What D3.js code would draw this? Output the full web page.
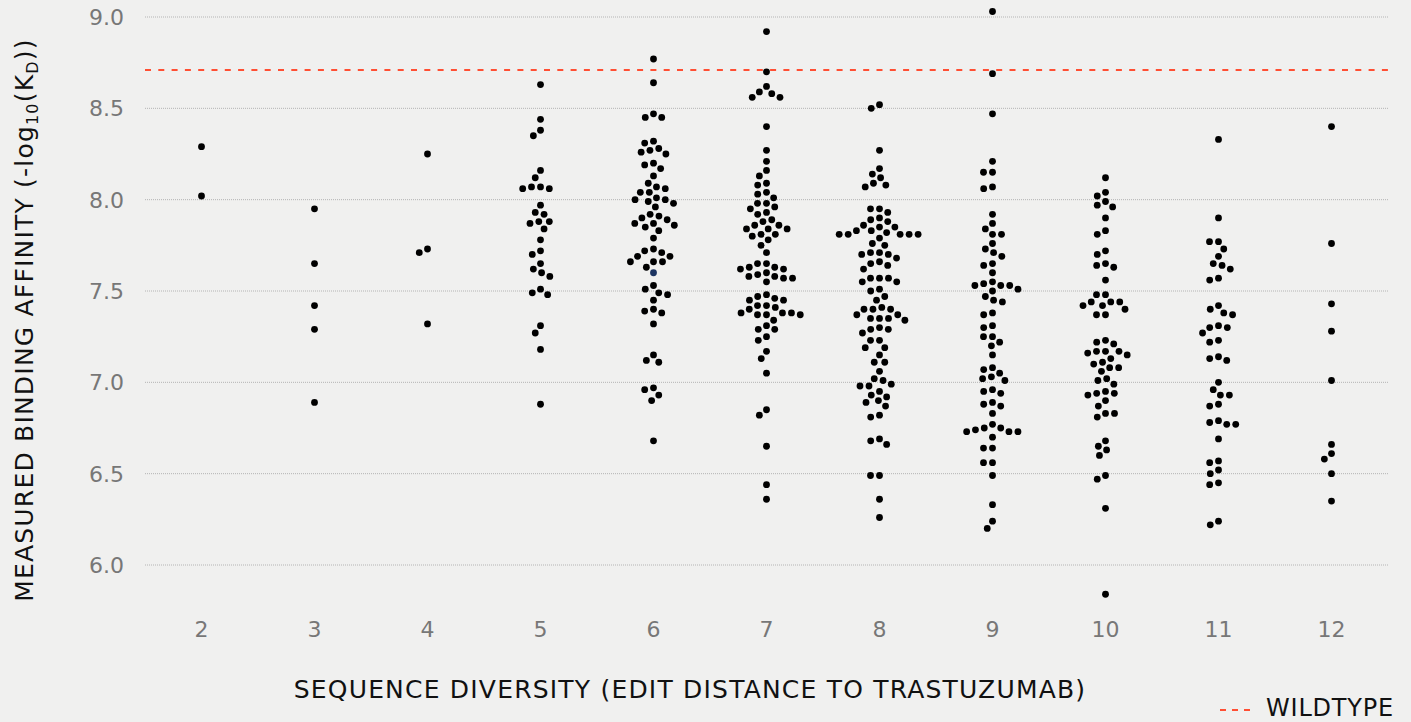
<!DOCTYPE html>
<html>
<head>
<meta charset="utf-8">
<script src="https://cdn.jsdelivr.net/npm/d3@7"></script>
<style>
  html, body { margin: 0; padding: 0; background: #f0f0ef; }
  svg { display: block; font-family: 'DejaVu Sans', sans-serif; }
</style>
</head>
<body>
<div id="chart"></div>
<script>
// edit distance to trastuzumab (x categories)
const categories = [2, 3, 4, 5, 6, 7, 8, 9, 10, 11, 12]
const yTicks = [6.0, 6.5, 7.0, 7.5, 8.0, 8.5, 9.0]
const wildtype = 8.71

// measured binding affinity, -log10(KD), one array per edit distance
const dist2 = [8.29, 8.02]
const dist3 = [7.95, 7.65, 7.42, 7.29, 6.89]
const dist4 = [8.25, 7.73, 7.71, 7.32]
const dist5 = [8.63, 8.44, 8.38, 8.35, 8.16, 8.12, 8.07, 8.06, 8.06, 8.07, 7.97, 7.93, 7.92, 7.87, 7.84, 7.88,
  7.88, 7.78, 7.72, 7.70, 7.65, 7.62, 7.60, 7.58, 7.49, 7.48, 7.51, 7.31, 7.27, 7.18, 6.88]
const dist6 = [8.77, 8.64, 8.45, 8.45, 8.47, 8.31, 8.32, 8.28, 8.26, 8.25, 8.27, 8.20, 8.19, 8.17, 8.13, 8.09,
  8.07, 8.06, 8.04, 8.04, 8.01, 8.00, 8.00, 7.99, 7.98, 7.96, 7.92, 7.91, 7.90, 7.89, 7.87, 7.87, 7.86, 7.85,
  7.83, 7.79, 7.73, 7.72, 7.71, 7.69, 7.69, 7.66, 7.66, 7.66, 7.63, 7.60, 7.53, 7.51, 7.49, 7.48, 7.45, 7.40,
  7.39, 7.38, 7.32, 7.15, 7.12, 7.11, 6.97, 6.96, 6.93, 6.90, 6.68]
const dist7 = [8.92, 8.70, 8.62, 8.59, 8.58, 8.56, 8.56, 8.40, 8.27, 8.21, 8.16, 8.13, 8.09, 8.08, 8.04, 8.03,
  8.01, 7.98, 7.98, 7.96, 7.95, 7.93, 7.92, 7.89, 7.88, 7.86, 7.86, 7.84, 7.84, 7.84, 7.81, 7.81, 7.80, 7.78,
  7.75, 7.71, 7.65, 7.65, 7.63, 7.63, 7.62, 7.60, 7.62, 7.59, 7.58, 7.57, 7.58, 7.57, 7.55, 7.48, 7.47, 7.46,
  7.45, 7.45, 7.42, 7.42, 7.41, 7.40, 7.38, 7.38, 7.38, 7.37, 7.37, 7.37, 7.34, 7.31, 7.29, 7.29, 7.25, 7.23,
  7.17, 7.13, 7.05, 6.85, 6.82, 6.65, 6.44, 6.36]
const dist8 = [8.52, 8.50, 8.27, 8.17, 8.14, 8.12, 8.08, 8.07, 8.09, 7.95, 7.95, 7.93, 7.90, 7.88, 7.89, 7.86,
  7.85, 7.85, 7.83, 7.81, 7.81, 7.81, 7.82, 7.81, 7.81, 7.83, 7.79, 7.76, 7.75, 7.71, 7.70, 7.70, 7.71, 7.68,
  7.66, 7.64, 7.65, 7.62, 7.57, 7.55, 7.55, 7.57, 7.57, 7.51, 7.50, 7.47, 7.45, 7.41, 7.40, 7.40, 7.40, 7.37,
  7.35, 7.34, 7.35, 7.35, 7.37, 7.30, 7.29, 7.29, 7.27, 7.23, 7.23, 7.19, 7.19, 7.15, 7.11, 7.11, 7.06, 7.02,
  7.01, 6.99, 6.98, 6.98, 6.95, 6.93, 6.92, 6.90, 6.89, 6.87, 6.82, 6.81, 6.68, 6.69, 6.66, 6.49, 6.49, 6.36,
  6.26]
const dist9 = [9.03, 8.69, 8.47, 8.21, 8.15, 8.15, 8.07, 8.06, 7.92, 7.87, 7.84, 7.81, 7.81, 7.76, 7.73, 7.71,
  7.69, 7.65, 7.64, 7.60, 7.55, 7.53, 7.53, 7.51, 7.53, 7.54, 7.50, 7.47, 7.45, 7.44, 7.38, 7.37, 7.31, 7.30,
  7.25, 7.25, 7.22, 7.20, 7.15, 7.08, 7.07, 7.05, 7.02, 7.01, 7.03, 6.95, 6.94, 6.96, 6.89, 6.88, 6.87, 6.83,
  6.75, 6.74, 6.73, 6.77, 6.70, 6.73, 6.73, 6.75, 6.64, 6.64, 6.56, 6.56, 6.49, 6.33, 6.24, 6.20]
const dist10 = [8.12, 8.04, 8.02, 7.99, 7.97, 7.96, 7.90, 7.83, 7.81, 7.72, 7.70, 7.65, 7.64, 7.63, 7.56, 7.48,
  7.48, 7.44, 7.42, 7.44, 7.40, 7.42, 7.44, 7.37, 7.37, 7.22, 7.21, 7.23, 7.17, 7.17, 7.16, 7.15, 7.17, 7.13,
  7.10, 7.11, 7.08, 7.08, 7.06, 7.01, 7.02, 6.99, 6.95, 6.94, 6.93, 6.94, 6.90, 6.87, 6.83, 6.83, 6.81, 6.68,
  6.65, 6.63, 6.60, 6.49, 6.47, 6.31, 5.84]
const dist11 = [8.33, 7.90, 7.77, 7.77, 7.73, 7.69, 7.64, 7.65, 7.62, 7.57, 7.56, 7.42, 7.40, 7.38, 7.37, 7.30,
  7.30, 7.31, 7.27, 7.23, 7.22, 7.13, 7.12, 7.14, 7.00, 6.96, 6.93, 6.93, 6.88, 6.87, 6.79, 6.77, 6.77, 6.78,
  6.69, 6.57, 6.56, 6.52, 6.50, 6.45, 6.44, 6.24, 6.22]
const dist12 = [8.40, 7.76, 7.43, 7.28, 7.01, 6.66, 6.61, 6.58, 6.50, 6.35]

const series = [dist2, dist3, dist4, dist5, dist6, dist7, dist8, dist9, dist10, dist11, dist12]

// the one point drawn in blue in the original
const highlight = { distance: 6, value: 7.60 }

const width = 1411
const height = 722
const left = 145
const right = 1388
const dotR = 3.4
const collide = 9

const svg = d3.select('#chart').append('svg')
  .attr('width', width)
  .attr('height', height)

svg.append('rect')
  .attr('width', width)
  .attr('height', height)
  .attr('fill', '#f0f0ef')

const x = d3.scalePoint()
  .domain(categories)
  .range([left, right])
  .padding(0.5)

const y = d3.scaleLinear()
  .domain([6, 9])
  .range([565, 17])

// gridlines
svg.append('g')
  .selectAll('line')
  .data(yTicks)
  .enter()
  .append('line')
  .attr('x1', left)
  .attr('x2', right)
  .attr('y1', d => y(d))
  .attr('y2', d => y(d))
  .attr('stroke', '#b4b4b4')
  .attr('stroke-width', 1)
  .attr('stroke-dasharray', '1,1')

// y tick labels
svg.append('g')
  .selectAll('text')
  .data(yTicks)
  .enter()
  .append('text')
  .attr('x', 124)
  .attr('y', d => y(d))
  .attr('dy', '0.36em')
  .attr('text-anchor', 'end')
  .attr('fill', '#777')
  .style('font-size', '22px')
  .text(d => d.toFixed(1))

// x tick labels
svg.append('g')
  .selectAll('text')
  .data(categories)
  .enter()
  .append('text')
  .attr('x', d => x(d))
  .attr('y', 637)
  .attr('text-anchor', 'middle')
  .attr('fill', '#777')
  .style('font-size', '22px')
  .text(d => d)

// wildtype reference line
svg.append('line')
  .attr('x1', left)
  .attr('x2', right)
  .attr('y1', y(wildtype))
  .attr('y2', y(wildtype))
  .attr('stroke', '#ff4f33')
  .attr('stroke-width', 2)
  .attr('stroke-dasharray', '6,7.3')

// simple swarm: place each point as close to the centre as it fits
const swarm = (values) => {
  const placed = []
  const pts = values.map(v => ({ v, py: y(v) })).sort((a, b) => a.py - b.py)
  pts.forEach(p => {
    const near = placed.filter(q => Math.abs(q.py - p.py) < collide)
    const cands = [0]
    near.forEach(q => {
      const dx = Math.sqrt(collide * collide - (q.py - p.py) ** 2)
      cands.push(q.dx - dx, q.dx + dx)
    })
    cands.sort((a, b) => Math.abs(a) - Math.abs(b) || a - b)
    p.dx = cands.find(c => near.every(q => (q.dx - c) ** 2 + (q.py - p.py) ** 2 >= collide * collide - 0.01))
    placed.push(p)
  })
  return pts
}

const dots = []
series.forEach((vals, i) => {
  swarm(vals).forEach(p => dots.push({ distance: categories[i], value: p.v, dx: p.dx }))
})

svg.append('g')
  .selectAll('circle')
  .data(dots)
  .enter()
  .append('circle')
  .attr('cx', d => x(d.distance) + d.dx)
  .attr('cy', d => y(d.value))
  .attr('r', dotR)
  .attr('fill', d => (d.distance === highlight.distance && d.value === highlight.value) ? '#1d3461' : '#000')

// axis titles
svg.append('text')
  .attr('x', 690)
  .attr('y', 698)
  .attr('text-anchor', 'middle')
  .attr('fill', '#111')
  .style('font-size', '25px')
  .style('letter-spacing', '1.2px')
  .text('SEQUENCE DIVERSITY (EDIT DISTANCE TO TRASTUZUMAB)')

const yTitle = svg.append('text')
  .attr('transform', 'translate(33, 320) rotate(-90)')
  .attr('text-anchor', 'middle')
  .attr('fill', '#111')
  .style('font-size', '25px')
  .style('letter-spacing', '1.2px')

yTitle.append('tspan').text('MEASURED BINDING AFFINITY (-log')
yTitle.append('tspan').attr('dy', 5).style('font-size', '16px').text('10')
yTitle.append('tspan').attr('dy', -5).text('(K')
yTitle.append('tspan').attr('dy', 5).style('font-size', '16px').text('D')
yTitle.append('tspan').attr('dy', -5).text('))')

// legend (sits on the bottom edge, as in the original)
const legend = svg.append('g')
legend.append('line')
  .attr('x1', 1220)
  .attr('x2', 1250)
  .attr('y1', 710)
  .attr('y2', 710)
  .attr('stroke', '#ff4f33')
  .attr('stroke-width', 2)
  .attr('stroke-dasharray', '6,6')
legend.append('text')
  .attr('x', 1266)
  .attr('y', 716)
  .attr('fill', '#111')
  .style('font-size', '24px')
  .style('letter-spacing', '0.8px')
  .text('WILDTYPE')
</script>
</body>
</html>
